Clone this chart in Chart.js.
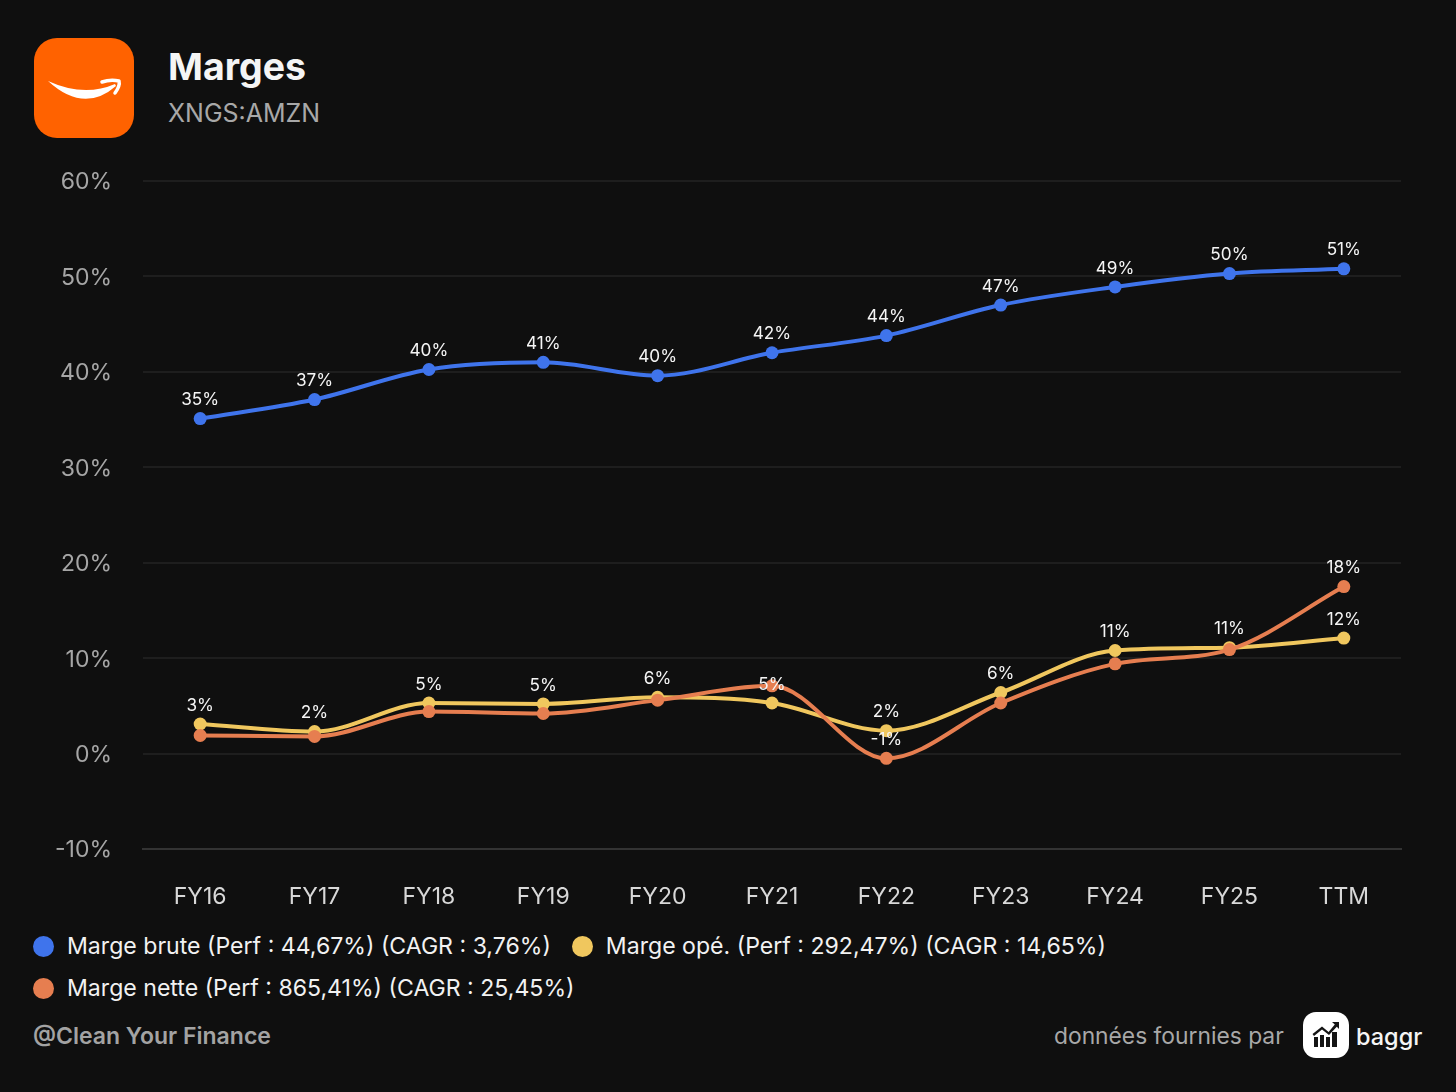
<!DOCTYPE html>
<html lang="fr">
<head>
<meta charset="utf-8">
<title>Marges</title>
<script src="https://cdn.jsdelivr.net/npm/chart.js@4"></script>
<style>
  html, body { margin: 0; padding: 0; background: #0f0f0f; }
  body { position: relative; width: 1456px; height: 1092px; overflow: hidden; font-family: Inter, sans-serif; }
  .abs { position: absolute; white-space: nowrap; line-height: 1; }
  #chart-box { position: absolute; left: 0; top: 0; width: 1456px; height: 920px; }
  #title { left: 168px; top: 48px; font-size: 37.5px; font-weight: 700; color: #f5f5f5; }
  #subtitle { left: 168px; top: 101px; font-size: 25px; color: #a8a8a8; }
  #legend { position: absolute; left: 33px; top: 925px; width: 1200px; display: flex; flex-wrap: wrap; }
  .item { display: flex; align-items: center; height: 42px; margin-right: 21px; font-size: 23.1px; color: #f2f2f2; white-space: nowrap; }
  .dot { width: 21px; height: 21px; border-radius: 50%; margin-right: 13px; }
  #credit { left: 33px; top: 1025px; font-size: 23px; font-weight: 600; color: #a3a3a3; }
  #source { left: 1054px; top: 1025px; font-size: 22.8px; color: #a8a8a8; }
  #baggr { left: 1356px; top: 1025px; font-size: 23.5px; font-weight: 500; color: #f5f5f5; }
</style>
</head>
<body>
<svg class="abs" style="left:34px;top:38px" width="100" height="100" viewBox="0 0 100 100">
  <rect width="100" height="100" rx="23" fill="#ff6200"/>
  <path d="M14 43 Q50 59.5 81 46 L82 48 Q50 76 14 43 Z" fill="#fff"/>
  <path d="M68 44 C74 42 80 42 85 43 C86 47 84 51 81 55" fill="none" stroke="#fff" stroke-width="3.5" stroke-linecap="round" stroke-linejoin="round"/>
</svg>
<div class="abs" id="title">Marges</div>
<div class="abs" id="subtitle">XNGS:AMZN</div>
<div id="chart-box"><canvas id="chart"></canvas></div>
<div id="legend"></div>
<div class="abs" id="credit">@Clean Your Finance</div>
<div class="abs" id="source">données fournies par</div>
<svg class="abs" style="left:1303px;top:1012px" width="46" height="46" viewBox="0 0 46 46">
  <rect width="46" height="46" rx="13" fill="#fff"/>
  <g fill="#141414">
    <rect x="11" y="25" width="4" height="10"/>
    <rect x="17" y="23" width="4" height="12"/>
    <rect x="23" y="25" width="4" height="10"/>
    <rect x="29" y="20" width="5" height="15"/>
    <path d="M29 10 L36 10 L36 17 L33.8 14.8 L26 23 L19 17.5 L11 24 L9.5 22 L19 14.5 L25.6 20 L31.8 12.4 Z"/>
  </g>
</svg>
<div class="abs" id="baggr">baggr</div>

<script>
const categories = ['FY16', 'FY17', 'FY18', 'FY19', 'FY20', 'FY21', 'FY22', 'FY23', 'FY24', 'FY25', 'TTM'];
const margeBrute = [35.1, 37.1, 40.25, 41.0, 39.6, 42.0, 43.8, 47.0, 48.9, 50.3, 50.8];
const margeOpe = [3.1, 2.3, 5.3, 5.2, 5.9, 5.3, 2.4, 6.4, 10.8, 11.1, 12.1];
const margeNette = [1.9, 1.8, 4.4, 4.2, 5.6, 7.1, -0.5, 5.3, 9.4, 10.9, 17.5];
// the original only keeps the labels that do not collide
const labelsBrute = ['35%', '37%', '40%', '41%', '40%', '42%', '44%', '47%', '49%', '50%', '51%'];
const labelsOpe = ['3%', '2%', '5%', '5%', '6%', '5%', '2%', '6%', '11%', '11%', '12%'];
const labelsNette = [null, null, null, null, null, null, '-1%', null, null, null, '18%'];
const yTicks = [60, 50, 40, 30, 20, 10, 0, -10];
const legendTexts = [
    'Marge brute (Perf : 44,67%) (CAGR : 3,76%)',
    'Marge opé. (Perf : 292,47%) (CAGR : 14,65%)',
    'Marge nette (Perf : 865,41%) (CAGR : 25,45%)'
];
const colors = ['#3f74ec', '#f0c75e', '#e67e50'];
const seriesValues = [margeBrute, margeOpe, margeNette];
const seriesLabels = [labelsBrute, labelsOpe, labelsNette];

const legendBox = document.getElementById('legend');
legendTexts.forEach((text, i) => {
    const item = document.createElement('div');
    item.className = 'item';
    const dot = document.createElement('span');
    dot.className = 'dot';
    dot.style.background = colors[i];
    item.appendChild(dot);
    item.appendChild(document.createTextNode(text));
    legendBox.appendChild(item);
});

// small replacement for the datalabels plugin
const pointLabels = {
    id: 'pointLabels',
    afterDatasetsDraw(chart) {
        const ctx = chart.ctx;
        ctx.save();
        ctx.font = '17.2px Inter, sans-serif';
        ctx.fillStyle = '#f5f5f5';
        ctx.textAlign = 'center';
        ctx.textBaseline = 'middle';
        chart.data.datasets.forEach((ds, i) => {
            chart.getDatasetMeta(i).data.forEach((pt, j) => {
                const text = seriesLabels[i][j];
                if (text) ctx.fillText(text, pt.x, pt.y - 18.5);
            });
        });
        ctx.restore();
    }
};

new Chart(document.getElementById('chart'), {
    type: 'line',
    data: {
        labels: categories,
        datasets: seriesValues.map((values, i) => ({
            label: legendTexts[i],
            data: values,
            borderColor: colors[i],
            backgroundColor: colors[i],
            borderWidth: 4,
            cubicInterpolationMode: 'monotone',
            pointRadius: 6.5,
            pointBorderWidth: 0,
            pointBackgroundColor: colors[i],
            order: 3 - i
        }))
    },
    options: {
        responsive: true,
        maintainAspectRatio: false,
        animation: false,
        layout: { padding: { top: 181, right: 55, left: 0, bottom: 0 } },
        plugins: { legend: { display: false }, tooltip: { enabled: false } },
        scales: {
            x: {
                offset: true,
                afterFit: (scale) => { scale.height = 71; },
                grid: { display: false },
                border: { display: true, color: '#333333', width: 2 },
                ticks: { color: '#d8d8d8', font: { family: 'Inter', size: 23 }, padding: 26, maxRotation: 0 }
            },
            y: {
                min: -10,
                max: 60,
                afterFit: (scale) => { scale.width = 143; },
                afterBuildTicks: (scale) => { scale.ticks = yTicks.map((v) => ({ value: v })); },
                grid: { color: '#1e1e1e', lineWidth: 2, drawTicks: false },
                border: { display: false },
                ticks: {
                    color: '#a6a6a6',
                    font: { family: 'Inter', size: 23 },
                    padding: 31,
                    labelOffset: 1.5,
                    callback: (v) => v + '%'
                }
            }
        }
    },
    plugins: [pointLabels]
});
</script>
</body>
</html>
